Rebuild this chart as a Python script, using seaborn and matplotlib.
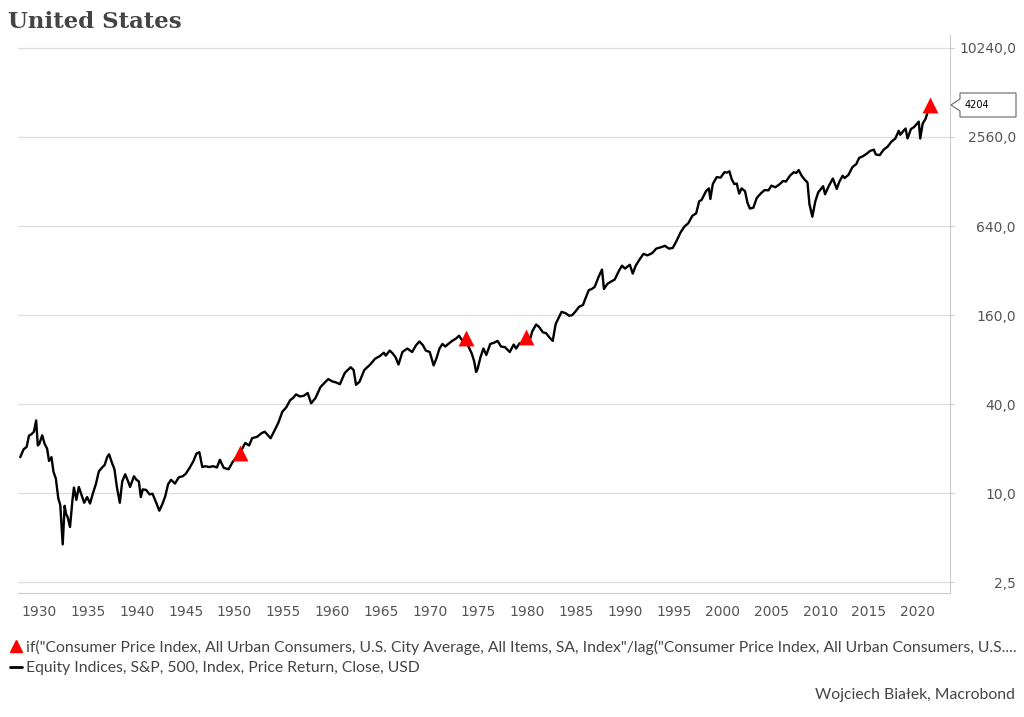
import numpy as np
import pandas as pd
import seaborn as sns
import matplotlib.pyplot as plt
from matplotlib.lines import Line2D
from matplotlib.patches import Polygon

# S&P 500 (decimal year, index level)
years = [1928.05, 1928.4, 1928.7, 1928.95, 1929.2, 1929.45, 1929.68, 1929.85, 1930.0, 1930.3,
         1930.55, 1930.8, 1931.0, 1931.25, 1931.45, 1931.7, 1931.95, 1932.15, 1932.4, 1932.6,
         1932.75, 1932.9, 1933.15, 1933.4, 1933.55, 1933.8, 1934.05, 1934.35, 1934.6, 1934.9,
         1935.2, 1935.5, 1935.8, 1936.1, 1936.4, 1936.7, 1936.95, 1937.15, 1937.45, 1937.7,
         1937.95, 1938.25, 1938.5, 1938.8, 1939.1, 1939.3, 1939.7, 1939.95, 1940.2, 1940.4,
         1940.6, 1940.95, 1941.3, 1941.6, 1941.95, 1942.3, 1942.6, 1942.9, 1943.2, 1943.5,
         1943.9, 1944.3, 1944.7, 1945.0, 1945.4, 1945.8, 1946.1, 1946.4, 1946.7, 1947.0,
         1947.4, 1947.8, 1948.2, 1948.5, 1948.9, 1949.4, 1949.8, 1950.2, 1950.5, 1950.8,
         1951.1, 1951.5, 1951.8, 1952.3, 1952.8, 1953.1, 1953.7, 1954.1, 1954.5, 1954.9,
         1955.3, 1955.7, 1956.0, 1956.3, 1956.7, 1957.1, 1957.5, 1957.85, 1958.3, 1958.8,
         1959.2, 1959.6, 1960.0, 1960.4, 1960.8, 1961.3, 1961.9, 1962.2, 1962.45, 1962.8,
         1963.3, 1963.9, 1964.4, 1964.9, 1965.3, 1965.5, 1965.9, 1966.2, 1966.5, 1966.8,
         1967.2, 1967.7, 1968.2, 1968.6, 1968.95, 1969.3, 1969.6, 1970.0, 1970.4, 1970.7,
         1971.0, 1971.3, 1971.6, 1971.9, 1972.3, 1972.7, 1973.0, 1973.4, 1973.7, 1974.0,
         1974.3, 1974.55, 1974.75, 1974.9, 1975.2, 1975.5, 1975.8, 1976.2, 1976.6, 1976.95,
         1977.3, 1977.7, 1978.2, 1978.6, 1978.85, 1979.2, 1979.5, 1979.8, 1980.2, 1980.5,
         1980.9, 1981.2, 1981.6, 1981.9, 1982.3, 1982.6, 1982.9, 1983.2, 1983.5, 1983.9,
         1984.3, 1984.6, 1984.9, 1985.3, 1985.7, 1986.0, 1986.3, 1986.6, 1986.9, 1987.3,
         1987.65, 1987.85, 1988.2, 1988.6, 1988.95, 1989.4, 1989.7, 1990.0, 1990.5, 1990.8,
         1991.1, 1991.5, 1991.9, 1992.3, 1992.8, 1993.2, 1993.7, 1994.1, 1994.5, 1994.9,
         1995.3, 1995.7, 1996.1, 1996.5, 1996.9, 1997.3, 1997.6, 1997.85, 1998.3, 1998.6,
         1998.75, 1999.0, 1999.4, 1999.8, 2000.2, 2000.45, 2000.7, 2000.95, 2001.2, 2001.45,
         2001.7, 2001.95, 2002.3, 2002.55, 2002.8, 2003.15, 2003.5, 2003.9, 2004.3, 2004.7,
         2005.0, 2005.4, 2005.8, 2006.2, 2006.5, 2006.9, 2007.3, 2007.55, 2007.8, 2008.1,
         2008.4, 2008.7, 2008.9, 2009.2, 2009.5, 2009.8, 2010.3, 2010.5, 2010.9, 2011.3,
         2011.7, 2011.95, 2012.3, 2012.5, 2012.9, 2013.3, 2013.7, 2014.0, 2014.4, 2014.8,
         2015.1, 2015.5, 2015.7, 2016.1, 2016.5, 2016.9, 2017.3, 2017.7, 2018.05, 2018.2,
         2018.5, 2018.75, 2018.95, 2019.3, 2019.6, 2019.9, 2020.1, 2020.25, 2020.5, 2020.8,
         2021.0, 2021.3]
sp500 = [17.5, 19.8, 20.5, 24.5, 25.0, 26.0, 31.0, 21.0, 21.5, 24.6,
         21.5, 20.0, 16.5, 17.5, 14.0, 12.5, 9.2, 8.3, 4.5, 8.2,
         7.2, 6.9, 5.9, 9.0, 10.9, 9.0, 11.0, 9.6, 8.6, 9.4,
         8.5, 10.0, 11.5, 14.0, 14.8, 15.5, 17.5, 18.3, 16.0, 14.5,
         11.0, 8.6, 12.0, 13.4, 12.0, 11.0, 13.0, 12.3, 12.0, 9.4,
         10.6, 10.5, 9.8, 9.9, 8.7, 7.6, 8.4, 9.5, 11.5, 12.3,
         11.6, 12.8, 13.0, 13.5, 14.8, 16.5, 18.5, 18.9, 15.0, 15.2,
         15.0, 15.2, 14.9, 16.8, 14.8, 14.5, 16.2, 17.5, 18.5, 20.0,
         21.8, 21.0, 23.5, 24.0, 25.5, 26.0, 23.5, 26.5, 30.0, 35.5,
         38.0, 42.5, 44.0, 46.5, 45.0, 45.5, 47.5, 40.5, 44.0, 52.0,
         55.5, 59.0, 57.0, 56.0, 54.5, 65.0, 71.0, 68.0, 54.0, 56.5,
         68.0, 74.0, 81.0, 84.5, 89.0, 85.0, 92.0, 88.0, 83.0, 74.0,
         90.0, 95.0, 90.0, 100.0, 106.0, 100.0, 92.0, 90.0, 73.0, 82.0,
         95.0, 102.0, 98.0, 102.0, 107.0, 111.0, 116.0, 106.0, 108.0, 97.0,
         88.0, 78.0, 66.0, 69.0, 83.0, 95.0, 86.0, 102.0, 104.0, 107.0,
         98.0, 97.0, 90.0, 101.0, 95.0, 103.0, 104.0, 105.0, 105.0, 124.0,
         138.0, 133.0, 122.0, 121.0, 112.0, 107.0, 139.0, 153.0, 168.0, 165.0,
         158.0, 160.0, 168.0, 182.0, 187.0, 211.0, 236.0, 240.0, 248.0, 290.0,
         325.0, 240.0, 260.0, 270.0, 278.0, 320.0, 345.0, 330.0, 350.0, 305.0,
         345.0, 380.0, 415.0, 405.0, 420.0, 450.0, 460.0, 470.0, 450.0, 455.0,
         510.0, 580.0, 635.0, 670.0, 750.0, 780.0, 940.0, 960.0, 1100.0, 1150.0,
         975.0, 1230.0, 1370.0, 1360.0, 1480.0, 1470.0, 1500.0, 1320.0, 1230.0, 1240.0,
         1060.0, 1150.0, 1100.0, 920.0, 840.0, 850.0, 990.0, 1060.0, 1120.0, 1115.0,
         1200.0, 1170.0, 1220.0, 1290.0, 1280.0, 1400.0, 1480.0, 1460.0, 1530.0, 1400.0,
         1320.0, 1260.0, 900.0, 740.0, 940.0, 1080.0, 1190.0, 1050.0, 1200.0, 1340.0,
         1140.0, 1270.0, 1400.0, 1350.0, 1420.0, 1600.0, 1680.0, 1850.0, 1900.0, 1980.0,
         2060.0, 2100.0, 1950.0, 1930.0, 2100.0, 2200.0, 2380.0, 2500.0, 2820.0, 2650.0,
         2800.0, 2920.0, 2500.0, 2900.0, 2980.0, 3140.0, 3250.0, 2500.0, 3150.0, 3400.0,
         3750.0, 4204.0]

# CPI signal markers
signal_years = [1950.55, 1973.75, 1979.9, 2021.3]
signal_vals = [18.8, 112.0, 114.0, 4204.0]

y_ticks = [2.5, 10, 40, 160, 640, 2560, 10240]
x_ticks = list(range(1930, 2021, 5))

df = pd.DataFrame({"year": years, "value": sp500})
sig = pd.DataFrame({"year": signal_years, "value": signal_vals})

sns.set_style("white")
plt.rcParams['font.family'] = ['DejaVu Sans']

fig = plt.figure(figsize=(10.24, 7.17), dpi=100)
ax = fig.add_axes([18 / 1024, 1 - 593 / 717, 932 / 1024, 558 / 717])

sns.lineplot(data=df, x="year", y="value", ax=ax, color="black", linewidth=1.7)
sns.scatterplot(data=sig, x="year", y="value", ax=ax, color="red", marker="^",
                s=130, edgecolor="red", linewidth=0, zorder=5)

ax.set_yscale("log", base=2)
ax.set_ylim(2.11, 12530)
ax.set_xlim(1927.82, 2023.3)
ax.set_yticks(y_ticks)
ax.set_yticklabels([f"{v:.1f}".replace(".", ",") for v in y_ticks], ha="right")
ax.minorticks_off()
ax.set_xticks(x_ticks)
ax.set_xticklabels([str(x) for x in x_ticks])
ax.yaxis.tick_right()
ax.set_xlabel("")
ax.set_ylabel("")

ax.grid(axis="y", color="#dddddd", linewidth=0.9)
ax.grid(axis="x", visible=False)
for s in ["left", "top"]:
    ax.spines[s].set_visible(False)
ax.spines["right"].set_color("#cccccc")
ax.spines["bottom"].set_color("#cccccc")
ax.tick_params(axis="both", colors="#555555", labelcolor="#555555", labelsize=10,
               width=0.8, direction="out")
ax.tick_params(axis="x", pad=4, length=5, color="#999999")
ax.tick_params(axis="y", pad=44.5, length=3, color="#cccccc")

fig.text(8 / 1024, 1 - 22 / 717, "United States", fontsize=16.5, fontweight="bold",
         family="DejaVu Serif", color="#444444", va="center", ha="left")

# value callout
pts = [(960, 93), (1016, 93), (1016, 117), (960, 117), (960, 111), (951, 105), (960, 99)]
poly = Polygon([(x / 1024, 1 - y / 717) for x, y in pts], closed=True, transform=fig.transFigure,
               facecolor="white", edgecolor="#666666", linewidth=0.8)
fig.patches.append(poly)
fig.text(965 / 1024, 1 - 105 / 717, "4204", fontsize=7, color="black", va="center", ha="left")

handles = [Line2D([], [], marker="^", color="red", linestyle="none", markersize=8),
           Line2D([], [], color="black", linewidth=2)]
labels = ['if("Consumer Price Index, All Urban Consumers, U.S. City Average, All Items, SA, Index"/lag("Consumer Price Index, All Urban Consumers, U.S....',
          "Equity Indices, S&P, 500, Index, Price Return, Close, USD"]
leg = fig.legend(handles, labels, loc="upper left", bbox_to_anchor=(2 / 1024, 1 - 632 / 717),
                 frameon=False, handlelength=0.8, handletextpad=0.2, labelspacing=0.4,
                 prop={"family": ["Lato", "DejaVu Sans"], "size": 11.3},
                 labelcolor="#444444", borderpad=0)

fig.text(1015 / 1024, 1 - 695 / 717, "Wojciech Białek, Macrobond", fontsize=11.3,
         family=["Lato", "DejaVu Sans"], color="#444444", ha="right", va="center")

plt.savefig("out.png", dpi=100)
plt.close("all")
